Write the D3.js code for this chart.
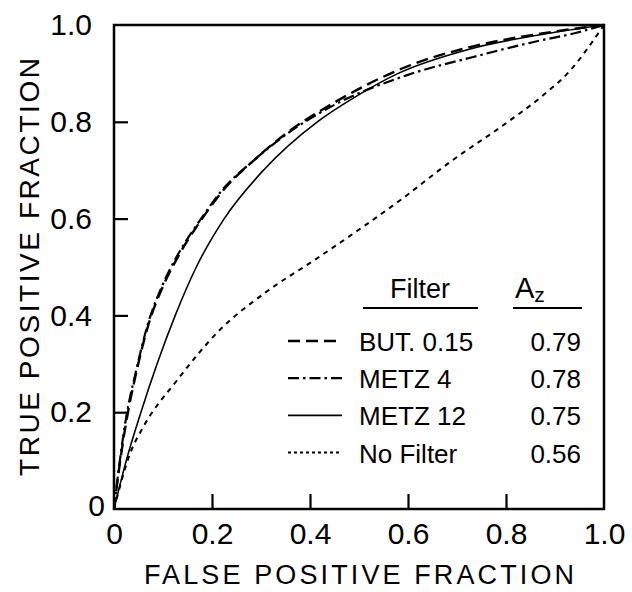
<!DOCTYPE html>
<html>
<head>
    <script src="https://cdn.jsdelivr.net/npm/d3@7"></script>
    <meta charset="utf-8">
    <style>
        body { margin: 0; background: #fff; }
        text { font-family: "Liberation Sans", Arial, sans-serif; fill: #000; }
    </style>
</head>
<body>
    <script>
        // legend rows: filter name and A_z
        var filters = ['BUT. 0.15', 'METZ 4', 'METZ 12', 'No Filter'];
        var azValues = ['0.79', '0.78', '0.75', '0.56'];

        // ROC points (false positive fraction, true positive fraction)
        var butFpf = [0, 0.01, 0.025, 0.045, 0.07, 0.1, 0.13, 0.18, 0.22, 0.285, 0.35, 0.45, 0.6, 0.733, 0.87, 1];
        var butTpf = [0, 0.08, 0.18, 0.28, 0.38, 0.46, 0.52, 0.6, 0.655, 0.72, 0.775, 0.84, 0.915, 0.956, 0.982, 1];

        var metz4Fpf = [0, 0.01, 0.025, 0.045, 0.07, 0.1, 0.13, 0.18, 0.22, 0.285, 0.35, 0.45, 0.6, 0.733, 0.87, 0.94, 1];
        var metz4Tpf = [0, 0.085, 0.19, 0.285, 0.385, 0.465, 0.525, 0.603, 0.658, 0.72, 0.773, 0.835, 0.897, 0.934, 0.968, 0.983, 1];

        var metz12Fpf = [0, 0.025, 0.055, 0.088, 0.125, 0.168, 0.225, 0.305, 0.415, 0.49, 0.58, 0.725, 0.87, 1];
        var metz12Tpf = [0, 0.1, 0.2, 0.3, 0.4, 0.5, 0.6, 0.7, 0.8, 0.85, 0.9, 0.95, 0.98, 1];

        var noFiltFpf = [0, 0.033, 0.06, 0.128, 0.216, 0.31, 0.41, 0.504, 0.584, 0.686, 0.8, 0.87, 0.93, 1];
        var noFiltTpf = [0, 0.115, 0.17, 0.265, 0.37, 0.448, 0.515, 0.58, 0.638, 0.717, 0.797, 0.85, 0.905, 1];

        var tickValues = [0, 0.2, 0.4, 0.6, 0.8, 1.0];
        var tickLabels = ['0', '0.2', '0.4', '0.6', '0.8', '1.0'];

        var width = 632, height = 592;
        var margin = { top: 25, right: 28, bottom: 83, left: 114 };
        var plotW = width - margin.left - margin.right;
        var plotH = height - margin.top - margin.bottom;

        function zip(xs, ys) {
            return xs.map(function (x, i) { return [x, ys[i]]; });
        }

        var series = [
            { pts: zip(butFpf, butTpf), dash: '12,6', w: 2.4 },
            { pts: zip(metz4Fpf, metz4Tpf), dash: '11,4,2.5,4', w: 2.2 },
            { pts: zip(metz12Fpf, metz12Tpf), dash: null, w: 1.6 },
            { pts: zip(noFiltFpf, noFiltTpf), dash: '5,5', w: 2 }
        ];

        var x = d3.scaleLinear().domain([0, 1]).range([0, plotW]);
        var y = d3.scaleLinear().domain([0, 1]).range([plotH, 0]);

        var svg = d3.select('body').append('svg')
            .attr('width', width)
            .attr('height', height);

        var g = svg.append('g')
            .attr('transform', 'translate(' + margin.left + ',' + margin.top + ')');

        // axes, ticks pointing into the plot
        var fmt = function (d, i) { return tickLabels[i]; };

        var xAxis = g.append('g')
            .attr('transform', 'translate(0,' + plotH + ')')
            .call(d3.axisBottom(x).tickValues(tickValues).tickFormat(fmt)
                .tickSizeInner(-15).tickSizeOuter(0).tickPadding(14));

        var yAxis = g.append('g')
            .call(d3.axisLeft(y).tickValues(tickValues).tickFormat(fmt)
                .tickSizeInner(-14).tickSizeOuter(0).tickPadding(22));

        [xAxis, yAxis].forEach(function (ax) {
            ax.select('.domain').remove();
            ax.selectAll('line').attr('stroke', '#000').attr('stroke-width', 2.2);
            ax.selectAll('text').style('font-size', '30px').attr('fill', '#000');
            // no tick marks where the frame already is
            ax.selectAll('.tick').filter(function (d) { return d === 0 || d === 1; })
                .select('line').remove();
        });
        // the 0 on the y axis sits nearer the corner
        yAxis.selectAll('.tick').filter(function (d) { return d === 0; })
            .select('text').attr('x', -9).attr('y', -3);

        // frame
        g.append('rect')
            .attr('x', 0).attr('y', 0)
            .attr('width', plotW).attr('height', plotH)
            .attr('fill', 'none')
            .attr('stroke', '#000')
            .attr('stroke-width', 2.5);

        var line = d3.line()
            .x(function (d) { return x(d[0]); })
            .y(function (d) { return y(d[1]); })
            .curve(d3.curveMonotoneX);

        g.selectAll('path.roc')
            .data(series)
            .enter()
            .append('path')
            .attr('class', 'roc')
            .attr('d', function (d) { return line(d.pts); })
            .attr('fill', 'none')
            .attr('stroke', '#000')
            .attr('stroke-width', function (d) { return d.w; })
            .attr('stroke-dasharray', function (d) { return d.dash; });

        // axis titles
        svg.append('text')
            .attr('x', margin.left + plotW / 2)
            .attr('y', 584)
            .attr('text-anchor', 'middle')
            .attr('textLength', 430)
            .attr('lengthAdjust', 'spacing')
            .style('font-size', '27px')
            .text('FALSE POSITIVE FRACTION');

        svg.append('text')
            .attr('transform', 'translate(39,' + (margin.top + plotH / 2) + ') rotate(-90)')
            .attr('text-anchor', 'middle')
            .attr('textLength', 418)
            .attr('lengthAdjust', 'spacing')
            .style('font-size', '28px')
            .text('TRUE POSITIVE FRACTION');

        // legend
        var leg = svg.append('g');
        leg.append('text')
            .attr('x', 420).attr('y', 298)
            .attr('text-anchor', 'middle')
            .style('font-size', '27px')
            .text('Filter');
        leg.append('line')
            .attr('x1', 363).attr('x2', 478).attr('y1', 308).attr('y2', 308)
            .attr('stroke', '#000').attr('stroke-width', 2.2);

        var az = leg.append('text')
            .attr('x', 515).attr('y', 298)
            .style('font-size', '29px');
        az.append('tspan').text('A');
        az.append('tspan').attr('dy', 4).style('font-size', '21px').text('z');
        leg.append('line')
            .attr('x1', 513).attr('x2', 582).attr('y1', 308).attr('y2', 308)
            .attr('stroke', '#000').attr('stroke-width', 2.2);

        var rows = leg.selectAll('g.row')
            .data(filters)
            .enter()
            .append('g')
            .attr('class', 'row')
            .attr('transform', function (d, i) { return 'translate(0,' + (351 + i * 37.2) + ')'; });

        rows.append('line')
            .attr('x1', 288).attr('x2', 342).attr('y1', -10).attr('y2', -10)
            .attr('stroke', '#000')
            .attr('stroke-width', function (d, i) { return series[i].w; })
            .attr('stroke-dasharray', function (d, i) {
                return i === 3 ? '3,3' : series[i].dash;
            });

        rows.append('text')
            .attr('x', 359)
            .style('font-size', '26px')
            .text(function (d) { return d; });

        rows.append('text')
            .attr('x', 581)
            .attr('text-anchor', 'end')
            .style('font-size', '26px')
            .text(function (d, i) { return azValues[i]; });
    </script>
</body>
</html>
